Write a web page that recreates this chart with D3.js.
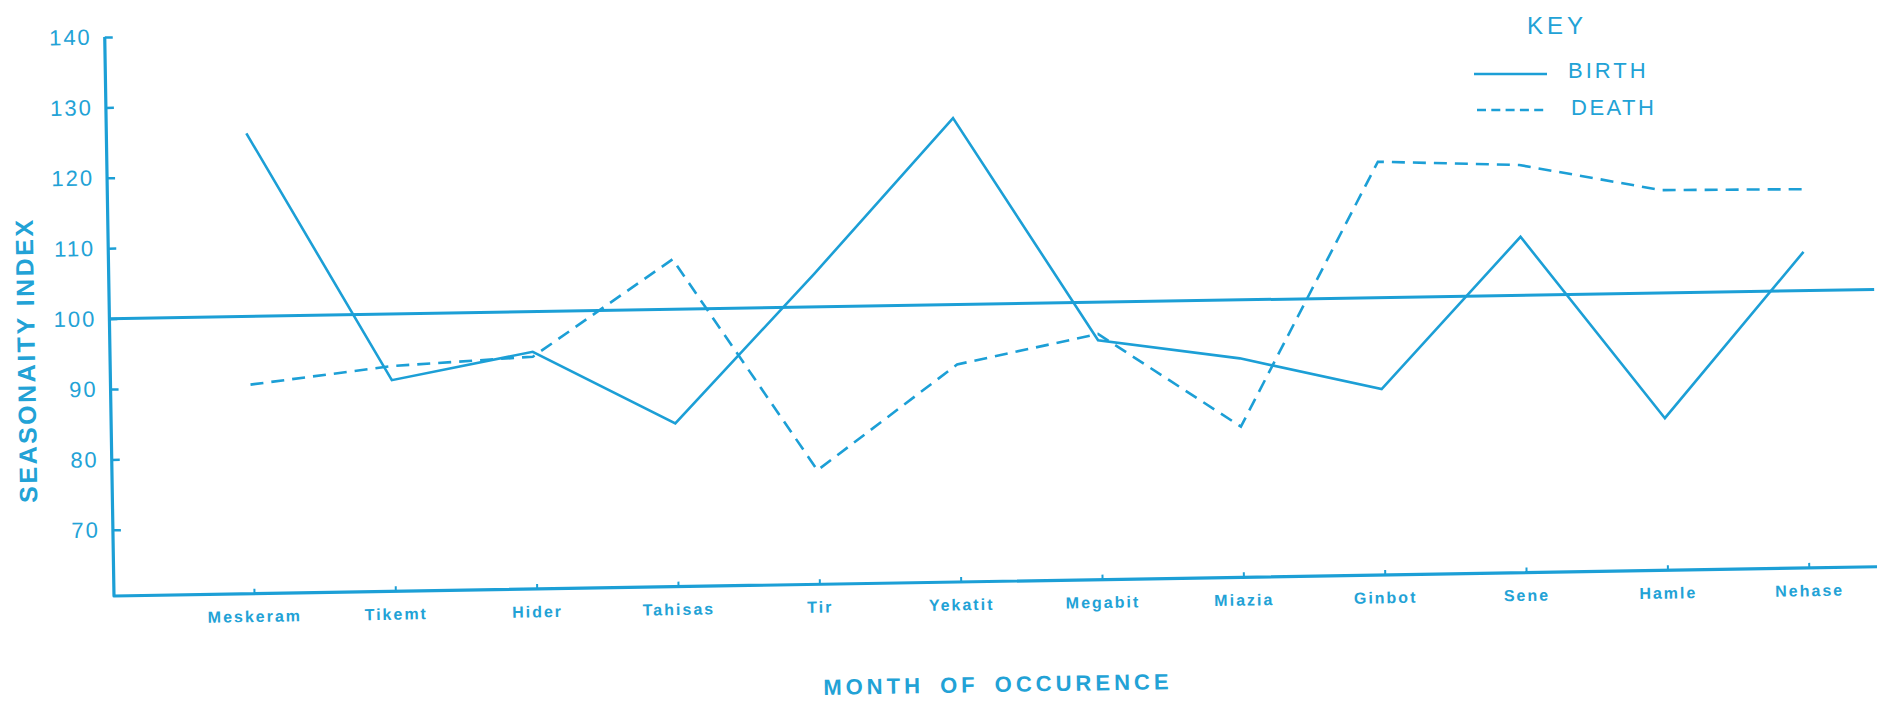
<!DOCTYPE html>
<html><head><meta charset="utf-8">
<script src="https://cdn.jsdelivr.net/npm/d3@7"></script>
<style>body{margin:0;background:#fff;overflow:hidden}</style>
</head><body><svg id="c" width="1877" height="702"></svg>
<script>
const months = ["Meskeram","Tikemt","Hider","Tahisas","Tir","Yekatit","Megabit","Miazia","Ginbot","Sene","Hamle","Nehase"];
const birth = [126.0, 90.6, 94.3, 83.8, 104.7, 126.5, 94.6, 91.7, 87.0, 108.3, 82.2, 105.5];
const death = [90.3, 92.6, 93.6, 107.1, 76.8, 91.5, 95.5, 82.0, 119.3, 118.5, 114.6, 114.4];
const yTicks = [70, 80, 90, 100, 110, 120, 130, 140];
const baseline = 100;
const legendKeys = ["BIRTH", "DEATH"];

const COLOR = "#1c9fd6";
const TEXT = "#22a2d6";
const W = 1765;
const svg = d3.select("#c");

const x = d3.scalePoint().domain(months).range([140, 1695]);
const y = d3.scaleLinear().domain([60.6, 140]).range([0, -559]);

const g = svg.append("g").attr("transform", "translate(114,596) rotate(-0.95)");

// axes frame (L shape)
g.append("path")
  .attr("d", `M0,${y(140)} L0,0 L${W},0`)
  .attr("fill", "none").attr("stroke", COLOR).attr("stroke-width", 3.2)
  .attr("stroke-linejoin", "round");

// y axis ticks & labels
const ya = g.append("g").call(d3.axisLeft(y).tickValues(yTicks).tickSize(-8).tickPadding(13));
ya.select(".domain").remove();
ya.selectAll(".tick line").attr("stroke", COLOR).attr("stroke-width", 2.5);
ya.selectAll(".tick text").attr("fill", TEXT)
  .style("font-family", "'Liberation Sans', Arial, sans-serif")
  .style("font-size", "22px").style("letter-spacing", "2px");

// x axis ticks & labels
const xa = g.append("g").call(d3.axisBottom(x).tickSize(-5).tickPadding(17));
xa.select(".domain").remove();
xa.selectAll(".tick line").attr("stroke", COLOR).attr("stroke-width", 2);
xa.selectAll(".tick text").attr("fill", TEXT)
  .style("font-family", "'Liberation Sans', Arial, sans-serif")
  .style("font-size", "16px").style("font-weight", "bold").style("letter-spacing", "2px");

// reference line at 100
g.append("line")
  .attr("x1", 0).attr("x2", W).attr("y1", y(baseline)).attr("y2", y(baseline))
  .attr("stroke", COLOR).attr("stroke-width", 3);

const line = d3.line().x((d, i) => x(months[i])).y(d => y(d));

g.append("path").datum(birth).attr("d", line)
  .attr("fill", "none").attr("stroke", COLOR).attr("stroke-width", 2.6)
  .attr("stroke-linejoin", "miter");

g.append("path").datum(death).attr("d", line)
  .attr("fill", "none").attr("stroke", COLOR).attr("stroke-width", 2.6)
  .attr("stroke-dasharray", "13,8");

// axis titles
svg.append("text")
  .attr("transform", "translate(35,360) rotate(-90.95)")
  .attr("text-anchor", "middle").attr("fill", TEXT)
  .style("font-family", "'Liberation Sans', Arial, sans-serif")
  .style("font-size", "25px").style("font-weight", "bold").style("letter-spacing", "2.5px")
  .text("SEASONAITY INDEX");

svg.append("text")
  .attr("transform", "translate(998,692) rotate(-0.95)")
  .attr("text-anchor", "middle").attr("fill", TEXT)
  .style("font-family", "'Liberation Sans', Arial, sans-serif")
  .style("font-size", "22px").style("font-weight", "bold")
  .style("letter-spacing", "4px").style("word-spacing", "6px")
  .text("MONTH OF OCCURENCE");

// legend
const lg = svg.append("g");
lg.append("text").attr("x", 1557).attr("y", 34).attr("text-anchor", "middle").attr("fill", TEXT)
  .style("font-family", "'Liberation Sans', Arial, sans-serif")
  .style("font-size", "24px").style("letter-spacing", "4px").text("KEY");
const items = lg.selectAll(".item").data(legendKeys).enter().append("g")
  .attr("transform", (d, i) => `translate(0,${i * 36})`);
items.append("line")
  .attr("x1", (d, i) => i ? 1477 : 1474).attr("x2", (d, i) => i ? 1544 : 1547)
  .attr("y1", 74).attr("y2", 74)
  .attr("stroke", COLOR).attr("stroke-width", 2.6)
  .attr("stroke-dasharray", (d, i) => i ? "9,5.3" : null);
items.append("text").attr("x", (d, i) => i ? 1571 : 1568).attr("y", 78).attr("fill", TEXT)
  .attr("dy", (d, i) => i ? 1 : 0)
  .style("font-family", "'Liberation Sans', Arial, sans-serif")
  .style("font-size", "22px").style("letter-spacing", (d, i) => i ? "2.5px" : "3px")
  .text(d => d);
</script></body></html>
